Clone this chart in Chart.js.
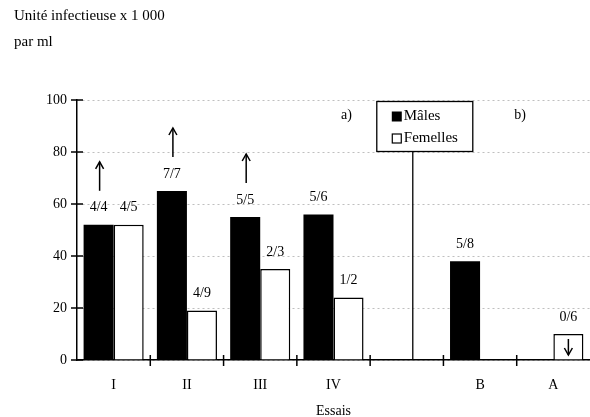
<!DOCTYPE html>
<html>
<head>
<meta charset="utf-8">
<script src="https://cdn.jsdelivr.net/npm/chart.js@4"></script>
<style>
  html, body { margin: 0; padding: 0; background: #fff; }
  #wrap { width: 590px; height: 417px; position: relative; }
</style>
</head>
<body>
<div id="wrap"><canvas id="c" width="590" height="417"></canvas></div>
<script>
// ---- data ----
const categories = ['I', 'II', 'III', 'IV', '', 'B', 'A'];
const maleValues = [52, 65, 55, 56, null, 38, null];
const femaleValues = [52, 19, 35, 24, null, null, 10];
const maleLabels = ['4/4', '7/7', '5/5', '5/6', '', '5/8', ''];
const femaleLabels = ['4/5', '4/9', '2/3', '1/2', '', '', '0/6'];
const maleArrowUp = [true, true, true, false, false, false, false];
const femaleArrowDown = [false, false, false, false, false, false, true];
const yTicks = [0, 20, 40, 60, 80, 100];
const seriesNames = ['Mâles', 'Femelles'];
const titleLines = ['Unité infectieuse x 1 000', 'par ml'];
const xTitle = 'Essais';
const panelLabels = ['a)', 'b)'];

const FONT = "'Liberation Serif', 'Times New Roman', serif";

const overlay = {
  id: 'overlay',
  afterDraw(chart) {
    const ctx = chart.ctx;
    const xs = chart.scales.x, ys = chart.scales.y;
    const y0 = ys.getPixelForValue(0);
    const axisX = xs.left;
    ctx.save();
    ctx.strokeStyle = '#000';
    ctx.fillStyle = '#000';
    ctx.lineWidth = 1.5;
    // y tick crosses
    yTicks.forEach(v => {
      const y = ys.getPixelForValue(v);
      ctx.beginPath(); ctx.moveTo(axisX - 6, y); ctx.lineTo(axisX + 6, y); ctx.stroke();
    });
    // x tick crosses at category boundaries
    for (let i = 1; i < categories.length; i++) {
      const x = (xs.getPixelForValue(i - 1) + xs.getPixelForValue(i)) / 2;
      ctx.beginPath(); ctx.moveTo(x, y0 - 5); ctx.lineTo(x, y0 + 6); ctx.stroke();
    }
    // value labels
    ctx.font = '14px ' + FONT;
    ctx.textAlign = 'center';
    ctx.textBaseline = 'middle';
    const mMeta = chart.getDatasetMeta(0).data;
    const fMeta = chart.getDatasetMeta(1).data;
    const drawArrow = (x, yFrom, yTo) => {
      ctx.beginPath(); ctx.moveTo(x, yFrom); ctx.lineTo(x, yTo); ctx.stroke();
      const dir = yTo < yFrom ? 1 : -1;
      ctx.beginPath();
      ctx.moveTo(x - 4, yTo + dir * 7); ctx.lineTo(x, yTo); ctx.lineTo(x + 4, yTo + dir * 7);
      ctx.stroke();
    };
    maleLabels.forEach((t, i) => {
      if (!t || maleValues[i] == null) return;
      const b = mMeta[i];
      ctx.fillText(t, b.x, b.y - 17);
      if (maleArrowUp[i]) drawArrow(b.x + 1, b.y - 34, b.y - 63);
    });
    femaleLabels.forEach((t, i) => {
      if (!t || femaleValues[i] == null) return;
      const b = fMeta[i];
      ctx.fillText(t, b.x, b.y - 17);
      if (femaleArrowDown[i]) drawArrow(b.x, b.y + 5, y0 - 5);
    });
    // separator line and legend box
    const sepX = xs.getPixelForValue(4) + 6;
    const boxL = xs.getPixelForValue(4) - 30, boxR = xs.getPixelForValue(4) + 66;
    const boxT = ys.getPixelForValue(100) + 1.5, boxB = ys.getPixelForValue(80) - 0.5;
    ctx.lineWidth = 1.3;
    ctx.beginPath(); ctx.moveTo(sepX, boxB); ctx.lineTo(sepX, y0); ctx.stroke();
    ctx.fillStyle = '#fff';
    ctx.fillRect(boxL, boxT, boxR - boxL, boxB - boxT);
    ctx.strokeRect(boxL, boxT, boxR - boxL, boxB - boxT);
    ctx.fillStyle = '#000';
    ctx.fillRect(boxL + 15, boxT + 10, 10, 10);
    ctx.lineWidth = 1.2;
    ctx.strokeRect(boxL + 15.5, boxT + 32.5, 9, 9);
    ctx.font = '15px ' + FONT;
    ctx.textAlign = 'left';
    ctx.fillText(seriesNames[0], boxL + 27, boxT + 15);
    ctx.fillText(seriesNames[1], boxL + 27, boxT + 37);
    // panel labels
    ctx.font = '14px ' + FONT;
    ctx.textAlign = 'center';
    ctx.fillText(panelLabels[0], xs.getPixelForValue(3) + 13, boxT + 14);
    ctx.fillText(panelLabels[1], xs.getPixelForValue(5) + 40, boxT + 14);
    // titles
    ctx.textAlign = 'left';
    ctx.font = '15px ' + FONT;
    ctx.fillText(titleLines[0], 14, 16);
    ctx.fillText(titleLines[1], 14, 42);
    ctx.textAlign = 'center';
    ctx.font = '14px ' + FONT;
    ctx.fillText(xTitle, (xs.left + xs.right) / 2, 411);
    ctx.restore();
  }
};

new Chart(document.getElementById('c'), {
  type: 'bar',
  data: {
    labels: categories,
    datasets: [
      { label: seriesNames[0], data: maleValues, backgroundColor: '#000', borderColor: '#000', borderWidth: 0 },
      { label: seriesNames[1], data: femaleValues, backgroundColor: '#fff', borderColor: '#000', borderWidth: 1.5 }
    ]
  },
  options: {
    responsive: false,
    animation: false,
    devicePixelRatio: 1,
    categoryPercentage: 0.82,
    barPercentage: 1.0,
    layout: { padding: { top: 100, left: 0, right: 0, bottom: 0 } },
    plugins: { legend: { display: false }, tooltip: { enabled: false }, title: { display: false } },
    scales: {
      x: {
        offset: true,
        grid: { display: false },
        border: { display: true, color: '#000', width: 1.5 },
        ticks: { color: '#000', font: { family: FONT, size: 14 }, padding: 9 },
        afterFit(s) { s.height = 57; }
      },
      y: {
        min: 0, max: 100,
        ticks: { stepSize: 20, color: '#000', font: { family: FONT, size: 14 }, padding: 10 },
        grid: { drawTicks: false, color: 'rgba(0,0,0,0.25)', lineWidth: 1 },
        border: { display: true, color: '#000', width: 1.5, dash: [2, 3] },
        afterFit(s) { s.width = 77; }
      }
    }
  },
  plugins: [overlay]
});
</script>
</body>
</html>
